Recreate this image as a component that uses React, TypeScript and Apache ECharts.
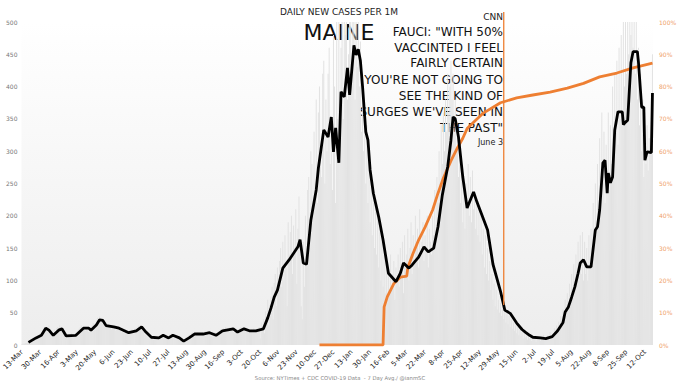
import React, { useEffect, useRef } from 'react';
import * as echarts from 'echarts';

// Categories: one per day starting 13-Mar-2020
const START_DATE = '2020-03-13';
const DAY_COUNT = 586;
const MONTHS = ['Jan', 'Feb', 'Mar', 'Apr', 'May', 'Jun', 'Jul', 'Aug', 'Sep', 'Oct', 'Nov', 'Dec'];

function buildDates(): string[] {
  const out: string[] = [];
  const t0 = Date.parse(START_DATE + 'T00:00:00Z');
  for (let i = 0; i < DAY_COUNT; i++) {
    out.push(new Date(t0 + i * 86400000).toISOString().slice(0, 10));
  }
  return out;
}
const dates = buildDates();

// 7-day average of new cases per 1M: [day index, value]
const avgCases: [number, number][] = [
  [6, 4], [13, 11], [18, 15], [22, 26], [25, 23], [29, 15], [34, 23], [37, 25], [41, 14], [50, 15],
  [57, 26], [62, 26], [64, 23], [69, 31], [72, 39], [75, 38], [78, 30], [85, 28], [90, 26], [99, 19],
  [106, 22], [111, 28], [115, 20], [120, 12], [127, 11], [131, 15], [136, 11], [140, 15], [146, 11], [150, 6],
  [155, 11], [160, 17], [168, 17], [174, 19], [180, 15], [186, 22], [196, 25], [200, 20], [206, 25], [211, 22],
  [217, 22], [224, 25], [228, 42], [231, 57], [234, 74], [237, 85], [242, 119], [248, 132], [252, 142], [256, 152],
  [258, 163], [261, 127], [264, 125], [268, 193], [273, 240], [275, 274], [280, 333], [284, 322], [287, 353], [289, 299],
  [291, 336], [294, 282], [296, 392], [299, 384], [302, 429], [304, 387], [308, 464], [310, 449], [312, 458], [314, 440],
  [316, 400], [319, 330], [321, 317], [323, 271], [326, 235], [331, 198], [335, 163], [340, 111], [347, 98], [351, 111],
  [354, 127], [359, 119], [362, 124], [368, 136], [373, 152], [377, 144], [382, 150], [386, 183], [390, 232], [395, 276],
  [398, 317], [400, 353], [402, 350], [405, 322], [409, 260], [413, 212], [419, 237], [422, 222], [427, 200], [432, 178],
  [437, 125], [444, 83], [448, 54], [453, 49], [459, 34], [464, 24], [467, 20], [471, 15], [474, 12], [481, 11],
  [486, 10], [492, 13], [497, 22], [502, 35], [504, 51], [507, 59], [510, 74], [513, 90], [516, 111], [518, 127],
  [521, 132], [524, 121], [528, 121], [532, 178], [534, 183], [536, 209], [539, 282], [541, 286], [543, 235], [544, 266],
  [546, 251], [548, 260], [550, 333], [553, 361], [557, 361], [558, 341], [560, 345], [562, 348], [565, 437], [567, 454],
  [571, 454], [572, 438], [575, 368], [577, 368], [578, 286], [580, 299], [584, 298], [585, 390]
];

// Share vaccinated (%), right axis: [day index, value]
const vaccinated: [number, number][] = [
  [276, 0], [335, 0], [336, 11.8], [339, 15], [345, 19], [351, 21], [357, 21.3], [358, 24], [363, 28.5], [368, 32.5],
  [374, 36.5], [381, 41.8], [386, 47], [391, 51.7], [398, 57], [404, 61], [409, 64], [413, 67], [428, 71.8], [444, 75],
  [459, 76.5], [474, 77.4], [490, 78.3], [506, 79.5], [521, 81], [536, 83], [552, 84.2], [567, 85.8], [585, 87.3]
];

// Daily new cases per 1M (grey bars)
const barsSpring2020 = [
  1, 2, 2, 3, 3, 4, 5, 6, 5, 7, 8, 9, 10, 12, 11, 14, 13, 16, 15, 18,
  25, 20, 28, 22, 26, 30, 18, 22, 14, 16, 24, 20, 26, 28, 22, 30, 25, 27, 20, 18,
  12, 15, 10, 14, 16, 13, 18, 12, 15, 17, 14, 16, 22, 25, 28, 30, 24, 27, 26, 22,
  28, 24, 20, 26, 22, 30, 34, 28, 32, 38, 42, 36, 44, 38, 40, 34, 32, 28, 30, 26,
  30, 26, 28, 24, 30, 26, 28, 22, 26, 24, 28, 24, 22, 20, 22, 18, 24, 20, 18, 16,
  20, 22, 24, 20, 18, 26, 24, 28, 30, 26
];
const barsSummer2020 = [
  30, 24, 22, 20, 16, 18, 14, 12, 10, 14, 12, 10, 8, 14, 12, 10, 12, 14, 10, 12,
  16, 14, 12, 10, 12, 8, 14, 16, 12, 18, 14, 12, 10, 8, 12, 10, 14, 8, 6, 4,
  6, 8, 10, 12, 14, 16, 12, 18, 20, 16, 18, 14, 16, 20, 18, 16, 14, 18, 20, 16,
  22, 18, 20, 16, 18, 14, 16, 12, 18, 20, 16, 18, 20, 22, 24, 20, 22, 26, 24, 28,
  22, 26, 24, 28, 26, 22, 20, 18, 22, 20, 24, 22, 26, 28, 24, 26, 22, 24, 20, 22,
  24, 22, 20, 24, 22, 26, 20, 22, 24, 26
];
const barsWinter2021 = [
  28, 10, 35, 26, 40, 18, 52, 44, 70, 30, 62, 75, 90, 40, 96, 110, 60, 120, 85, 130,
  150, 90, 160, 100, 170, 120, 60, 190, 140, 175, 200, 110, 185, 150, 210, 95, 180, 230, 140, 60,
  40, 160, 90, 200, 130, 240, 260, 150, 300, 280, 200, 330, 250, 380, 220, 360, 400, 300, 260, 420,
  440, 250, 380, 300, 420, 460, 280, 330, 240, 480, 400, 220, 500, 350, 520, 390, 460, 520, 350, 500,
  480, 540, 380, 450, 520, 560, 400, 540, 500, 380, 560, 430, 520, 400, 470, 330, 420, 300, 360, 250,
  340, 220, 300, 190, 260, 170, 240, 150, 220, 140, 200, 120, 180, 100, 160, 90, 140, 80, 130, 70,
  120, 80, 140, 90, 110, 130, 70, 120, 100, 140, 90, 150, 110, 160, 80, 170, 120, 140, 180, 100,
  150, 190, 110, 170, 130, 200, 150, 180, 120, 210, 140, 160, 190, 130, 170, 150, 200, 120, 180, 160,
  140, 200, 170, 240, 180, 260, 220, 300, 250, 340, 280, 360, 300, 380, 330, 420, 360, 400, 440, 380
];
const barsSpringFall2021 = [
  420, 330, 380, 300, 340, 260, 300, 220, 260, 190, 240, 180, 250, 210, 280, 200, 260, 190, 270, 210,
  230, 180, 220, 170, 210, 160, 200, 140, 180, 120, 170, 110, 150, 100, 130, 85, 110, 70, 95, 60,
  85, 55, 70, 50, 65, 45, 60, 40, 55, 35, 50, 32, 45, 28, 40, 25, 35, 22, 30, 18,
  28, 15, 24, 14, 22, 10, 18, 12, 16, 8, 14, 10, 15, 6, 12, 9, 14, 5, 12, 10,
  13, 6, 12, 9, 16, 7, 12, 10, 15, 8, 20, 10, 18, 14, 26, 15, 30, 20, 36, 25,
  45, 30, 55, 40, 70, 45, 80, 55, 95, 60, 110, 70, 125, 85, 140, 95, 160, 100, 170, 110,
  175, 100, 160, 110, 150, 100, 170, 120, 180, 140, 220, 160, 250, 170, 280, 200, 320, 230, 360, 250,
  330, 220, 310, 250, 360, 240, 340, 280, 400, 300, 420, 330, 440, 310, 460, 350, 480, 360, 500, 400,
  520, 420, 560, 450, 580, 480, 600, 460, 540, 420, 500, 380, 460, 340, 420, 300, 380, 260, 360, 280,
  340, 270, 320, 300, 380, 450
];
const dailyBars = [...barsSpring2020, ...barsSummer2020, ...barsWinter2021, ...barsSpringFall2021];

const LEFT_TICKS = { min: 0, max: 500, interval: 50 };
const RIGHT_TICKS = { min: 0, max: 100, interval: 10 };

const QUOTE_LINES = [
  'FAUCI: "WITH 50%',
  'VACCINTED I FEEL',
  'FAIRLY CERTAIN',
  "YOU'RE NOT GOING TO",
  'SEE THE KIND OF',
  "SURGES WE'VE SEEN IN",
  'THE PAST"'
];
const QUOTE_DAY = 447; // 2021-06-03

const FONT = '"DejaVu Sans", sans-serif';
const ORANGE = '#ee7f32';

function fmtLabel(v: string): string {
  const [, m, d] = v.split('-');
  return `${parseInt(d, 10)}-${MONTHS[parseInt(m, 10) - 1]}`;
}

export default function App() {
  const ref = useRef<HTMLDivElement>(null);
  useEffect(() => {
    if (!ref.current) return;
    const chart = echarts.init(ref.current, undefined, { renderer: 'svg' });
    chart.setOption({
      animation: false,
      backgroundColor: '#ffffff',
      textStyle: { fontFamily: FONT },
      grid: {
        left: 20, right: 27, top: 22, bottom: 38, show: true, borderWidth: 0,
        backgroundColor: {
          type: 'linear', x: 0, y: 0, x2: 0, y2: 1,
          colorStops: [{ offset: 0, color: '#ffffff' }, { offset: 1, color: '#ededed' }]
        }
      },
      xAxis: {
        type: 'category', data: dates,
        axisLine: { show: false }, axisTick: { show: false },
        axisLabel: { interval: 16, rotate: 45, fontSize: 7, color: '#222', margin: 6, formatter: fmtLabel }
      },
      yAxis: [
        {
          type: 'value', ...LEFT_TICKS,
          axisLine: { show: false }, axisTick: { show: false }, splitLine: { show: false },
          axisLabel: { fontSize: 6, color: '#777', margin: 4 }
        },
        {
          type: 'value', ...RIGHT_TICKS, position: 'right',
          axisLine: { show: false }, axisTick: { show: false }, splitLine: { show: false },
          axisLabel: { fontSize: 6, color: '#efa26a', margin: 6, formatter: '{value}%' }
        }
      ],
      series: [
        {
          type: 'bar', data: dailyBars, barWidth: 0.55, yAxisIndex: 0,
          itemStyle: { color: '#e2e2e2' }, silent: true
        },
        {
          type: 'line', data: vaccinated, yAxisIndex: 1, symbol: 'none',
          lineStyle: { color: ORANGE, width: 2.8 }, z: 3
        },
        {
          type: 'line', data: avgCases, yAxisIndex: 0, symbol: 'none',
          lineStyle: { color: '#000', width: 2.8 }, z: 4
        }
      ]
    });

    const vx = chart.convertToPixel({ xAxisIndex: 0 }, QUOTE_DAY) as number;
    const vyBottom = chart.convertToPixel({ yAxisIndex: 0 }, 62) as number;
    const textEls: any[] = [
      { type: 'text', x: 339, y: 12, style: { text: 'DAILY NEW CASES PER 1M', font: `9px ${FONT}`, fill: '#222', textAlign: 'center', textVerticalAlign: 'middle' } },
      { type: 'text', x: 339, y: 32, style: { text: 'MAINE', font: `22px ${FONT}`, fill: '#111', textAlign: 'center', textVerticalAlign: 'middle' } },
      { type: 'text', x: 503, y: 17, style: { text: 'CNN', font: `9px ${FONT}`, fill: '#222', textAlign: 'right', textVerticalAlign: 'middle' } },
      { type: 'text', x: 503, y: 142, style: { text: 'June 3', font: `8px ${FONT}`, fill: '#222', textAlign: 'right', textVerticalAlign: 'middle' } },
      { type: 'text', x: 340, y: 378, style: { text: 'Source: NYTimes + CDC COVID-19 Data  - 7 Day Avg./ @ianmSC', font: `5.3px ${FONT}`, fill: '#888', textAlign: 'center', textVerticalAlign: 'middle' } }
    ];
    const qY = [32, 48, 63, 80, 96, 112, 128];
    QUOTE_LINES.forEach((t, i) => {
      textEls.push({ type: 'text', x: 503, y: qY[i], style: { text: t, font: `12px ${FONT}`, fill: '#111', textAlign: 'right', textVerticalAlign: 'middle' } });
    });
    chart.setOption({
      graphic: [
        { type: 'line', shape: { x1: vx, y1: 12, x2: vx, y2: vyBottom }, style: { stroke: ORANGE, lineWidth: 1.3 }, z: 5 },
        ...textEls.map((e) => ({ ...e, z: 1 }))
      ]
    });
    return () => chart.dispose();
  }, []);
  return <div ref={ref} style={{ position: 'fixed', left: 0, top: 0, width: 680, height: 383 }} />;
}
